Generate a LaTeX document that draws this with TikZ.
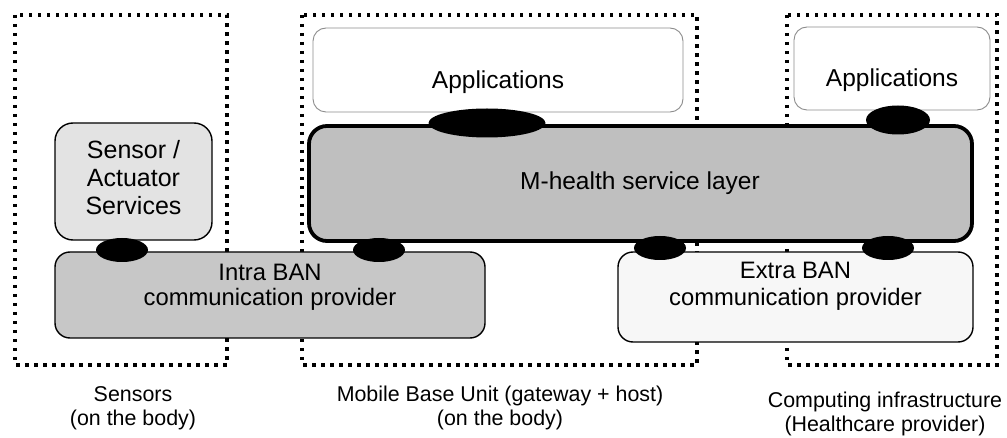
\documentclass[tikz,border=0pt]{standalone}
\usepackage{fontspec}
\setmainfont{Liberation Sans}
\usetikzlibrary{shapes.geometric}
\begin{document}
\begin{tikzpicture}[x=1pt,y=-1pt,
  dotbox/.style={draw=black,line width=3.5pt,dash pattern=on 3.5pt off 5.5pt},
  appbox/.style={draw=black!45,line width=0.9pt,fill=white,rounded corners=13pt},
  layerbox/.style={draw=black,line width=1.4pt,rounded corners=16pt},
  plug/.style={ellipse,fill=black,inner sep=0pt,minimum height=24pt,minimum width=52pt},
  boxtext/.style={align=center,inner sep=0pt,font=\fontsize{24.5}{28}\selectfont},
  captext/.style={align=center,inner sep=0pt,font=\fontsize{21.4}{23.5}\selectfont}
]
\useasboundingbox (0,0) rectangle (1007,438);
% dotted region boxes
\draw[dotbox] (15,15) rectangle (227,365);
\draw[dotbox] (302,15) rectangle (697,365);
\draw[dotbox] (787,15) rectangle (997,365);
% boxes
\node[appbox,minimum width=370pt,minimum height=84pt] (app1) at (498,70) {};
\node[boxtext] (app1t) at (498,82) {Applications};
\node[appbox,minimum width=196pt,minimum height=83pt] (app2) at (892,68.5) {};
\node[boxtext] (app2t) at (892,80) {Applications};
\node[draw=black,line width=3.8pt,fill=black!25,rounded corners=18pt,minimum width=663pt,minimum height=115pt] (mh) at (640.5,183.5) {};
\node[boxtext] (mht) at (640,183) {M-health service layer};
\node[layerbox,fill=black!11,minimum width=157pt,minimum height=117pt,rounded corners=18pt] (sens) at (133.5,181.5) {};
\node[boxtext,font=\fontsize{25}{28}\selectfont] (senst) at (133.5,178) {Sensor /\\Actuator\\Services};
\node[layerbox,fill=black!22,minimum width=430pt,minimum height=86pt,rounded corners=15pt] (intra) at (270,295) {};
\node[boxtext,font=\fontsize{23.8}{25.5}\selectfont] (intrat) at (270,287.5) {Intra BAN\\communication provider};
\node[layerbox,fill=black!3,minimum width=355pt,minimum height=90pt,rounded corners=15pt] (extra) at (795.5,297) {};
\node[boxtext,font=\fontsize{23.8}{26.5}\selectfont] (extrat) at (795.5,286.5) {Extra BAN\\communication provider};
% connection points
\node[plug,minimum width=117pt,minimum height=29pt] (p1) at (487,123) {};
\node[plug,minimum width=64pt,minimum height=29pt] (p2) at (898,120) {};
\node[plug] (p3) at (122,250) {};
\node[plug] (p4) at (379,250) {};
\node[plug] (p5) at (660,248) {};
\node[plug] (p6) at (888,248) {};
% captions
\node[captext] (c1) at (133,408) {Sensors\\(on the body)};
\node[captext] (c2) at (500,408) {Mobile Base Unit (gateway + host)\\(on the body)};
\node[captext] (c3) at (885,414) {Computing infrastructure\\(Healthcare provider)};
\end{tikzpicture}
\end{document}
